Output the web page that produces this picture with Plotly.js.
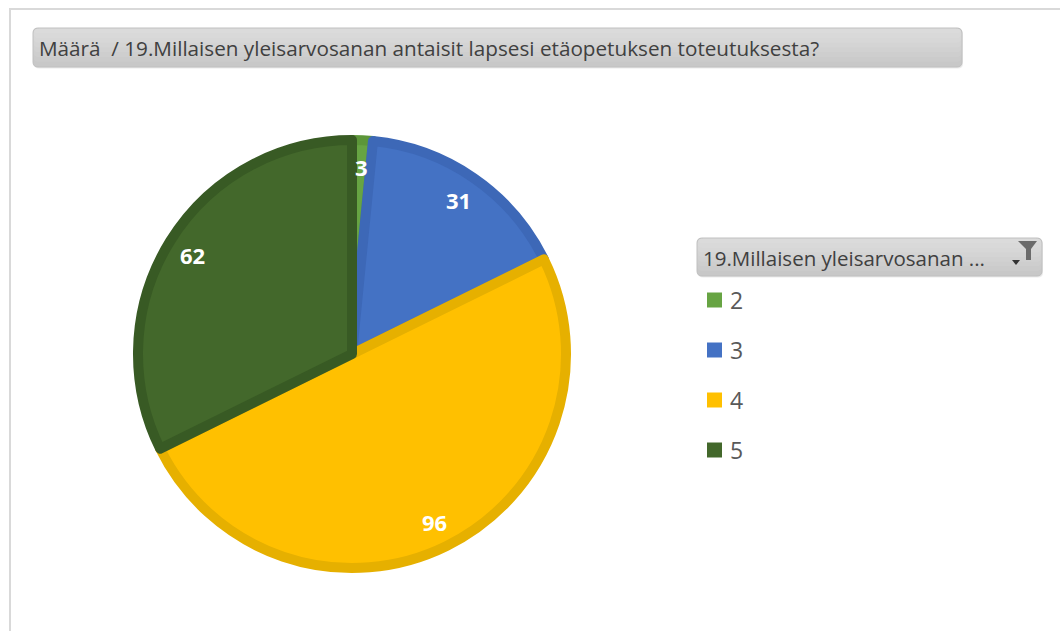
<!DOCTYPE html>
<html>
<head>
<meta charset="utf-8">
<script src="https://cdn.plot.ly/plotly-3.0.1.min.js"></script>
<style>html,body{margin:0;padding:0;background:#fff;}#chart{width:1060px;height:631px;}</style>
</head>
<body>
<div id="chart"></div>
<script>
// ---- data ----
const categories = ['2', '3', '4', '5'];
const values = [3, 31, 96, 62];
const fillColors = ['#67a443', '#4472c4', '#ffc000', '#43682b'];
const borderColors = ['#5c9639', '#3d68b7', '#e6b000', '#385a24'];
const titleText = 'Määrä\u00a0 / 19.Millaisen yleisarvosanan antaisit lapsesi etäopetuksen toteutuksesta?';
const legendTitle = '19.Millaisen yleisarvosanan ...';

// ---- geometry helpers ----
const W = 1060, H = 631;
const px = x => x / W;
const py = y => 1 - y / H;
const FONT = '"Open Sans", "Noto Sans", sans-serif';

const cx = 352, cy = 354;     // pie centre (px)
const lineW = 10;
const rFill = 214;            // radius of slice paths (stroke adds lineW/2)
const rOuter = rFill + lineW / 2;

function roundRect(x0, y0, x1, y1, r) {
  const a = (x, y) => px(x) + ',' + py(y);
  return 'M' + a(x0 + r, y0) + ' L' + a(x1 - r, y0) + ' Q' + a(x1, y0) + ' ' + a(x1, y0 + r) +
    ' L' + a(x1, y1 - r) + ' Q' + a(x1, y1) + ' ' + a(x1 - r, y1) +
    ' L' + a(x0 + r, y1) + ' Q' + a(x0, y1) + ' ' + a(x0, y1 - r) +
    ' L' + a(x0, y0 + r) + ' Q' + a(x0, y0) + ' ' + a(x0 + r, y0) + ' Z';
}
function poly(pts) {
  return 'M' + pts.map(p => px(p[0]) + ',' + py(p[1])).join(' L') + ' Z';
}
// gradient-looking rounded box (lighter at top)
function gradientBox(x0, y0, x1, y1, r) {
  const out = [{ type: 'path', xref: 'paper', yref: 'paper', layer: 'below',
    path: roundRect(x0 + 1, y0 + 1.5, x1 + 1, y1 + 1.5, r), fillcolor: 'rgba(0,0,0,0.08)', line: { width: 0 } },
  { type: 'path', xref: 'paper', yref: 'paper', layer: 'below',
    path: roundRect(x0, y0, x1, y1, r), fillcolor: '#c4c4c4', line: { color: '#c0c0c0', width: 1 } }];
  const n = 8, h = y1 - y0;
  for (let k = 0; k < n; k++) {
    out.push({ type: 'path', xref: 'paper', yref: 'paper', layer: 'below',
      path: roundRect(x0 + 0.5, y0 + 0.5, x1 - 0.5, y0 + 0.5 + (h - 1) * (1 - k / n), r),
      fillcolor: 'rgba(255,255,255,0.07)', line: { width: 0 } });
  }
  return out;
}

const pie = {
  type: 'pie',
  values: values,
  labels: categories,
  sort: false,
  direction: 'clockwise',
  rotation: 0,
  textinfo: 'none',
  hoverinfo: 'label+value',
  showlegend: false,
  marker: { colors: fillColors, line: { color: borderColors, width: lineW } },
  domain: { x: [px(cx - rFill), px(cx + rFill)], y: [py(cy + rFill), py(cy - rFill)] }
};

// data labels placed at the middle angle of each slice
const total = values.reduce((s, v) => s + v, 0);
const annotations = [];
let cum = 0;
values.forEach((v, i) => {
  const mid = (cum + v / 2) / total * 2 * Math.PI;
  cum += v;
  const d = 0.855 * rOuter;
  annotations.push({
    xref: 'paper', yref: 'paper', showarrow: false,
    x: px(cx + d * Math.sin(mid)), y: py(cy - d * Math.cos(mid)),
    xanchor: 'center', yanchor: 'middle',
    text: '<b>' + v + '</b>',
    font: { family: FONT, size: 22, color: '#ffffff' }
  });
});

// legend header
annotations.push({
  xref: 'paper', yref: 'paper', showarrow: false,
  x: px(701), y: py(258), xanchor: 'left', yanchor: 'middle',
  text: legendTitle, font: { family: FONT, size: 20.5, color: '#404040' }
});

let shapes = [
  // outer chart frame
  { type: 'path', xref: 'paper', yref: 'paper', layer: 'below',
    path: 'M' + px(10) + ',' + py(H) + ' L' + px(10) + ',' + py(9) + ' L' + px(W) + ',' + py(9),
    line: { color: '#d9d9d9', width: 2 } }
];
shapes = shapes.concat(gradientBox(33, 28, 962, 67, 5));
shapes = shapes.concat(gradientBox(697, 238, 1042, 276, 5));
shapes.push(
  // funnel icon
  { type: 'path', xref: 'paper', yref: 'paper', layer: 'above',
    path: poly([[1018, 241], [1037, 241], [1031, 249], [1031, 260], [1026, 260], [1026, 249]]),
    fillcolor: '#6b6b6b', line: { width: 0 } },
  // dropdown arrow
  { type: 'path', xref: 'paper', yref: 'paper', layer: 'above',
    path: poly([[1012, 260], [1020, 260], [1016, 265]]),
    fillcolor: '#333333', line: { width: 0 } }
);

// legend items
categories.forEach((c, i) => {
  const yc = 300 + i * 50;
  shapes.push({ type: 'rect', xref: 'paper', yref: 'paper', layer: 'above',
    x0: px(707), x1: px(722), y0: py(yc + 7.5), y1: py(yc - 7.5),
    fillcolor: fillColors[i], line: { width: 0 } });
  annotations.push({ xref: 'paper', yref: 'paper', showarrow: false,
    x: px(728), y: py(yc), xanchor: 'left', yanchor: 'middle',
    text: c, font: { family: FONT, size: 23, color: '#595959' } });
});

const layout = {
  width: W, height: H,
  margin: { l: 0, r: 0, t: 0, b: 0 },
  paper_bgcolor: '#ffffff',
  showlegend: false,
  font: { family: FONT },
  title: {
    text: titleText, xref: 'paper', yref: 'paper',
    x: px(39), xanchor: 'left', y: py(49), yanchor: 'middle',
    font: { family: FONT, size: 20.7, color: '#404040' }
  },
  shapes: shapes,
  annotations: annotations
};

Plotly.newPlot('chart', [pie], layout, { staticPlot: true, displayModeBar: false });
</script>
</body>
</html>
